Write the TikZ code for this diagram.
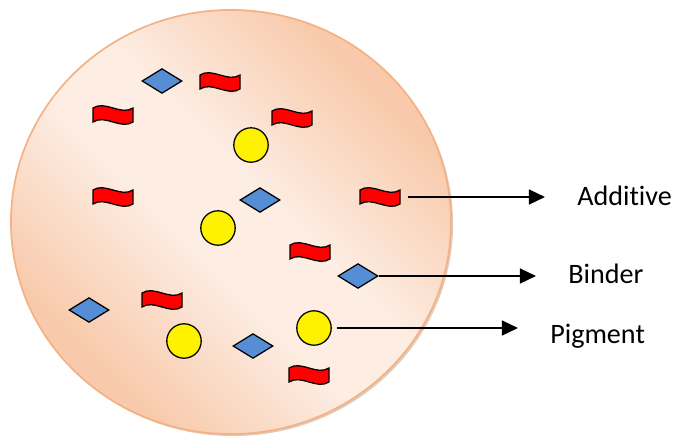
\documentclass[tikz,border=0pt]{standalone}
\usepackage{fontspec}
\setmainfont[Ligatures=NoCommon]{Carlito}
\usetikzlibrary{arrows.meta, positioning, shapes.geometric}

\definecolor{peachout}{RGB}{248,201,170}
\definecolor{peachin}{RGB}{253,237,227}
\definecolor{peachline}{RGB}{244,177,131}
\definecolor{peachshadow}{RGB}{196,150,118}
\definecolor{binderblue}{RGB}{85,142,213}

% diagonal band of light across the film
\pgfdeclareverticalshading{filmshade}{100bp}{color(0bp)=(peachout); color(27bp)=(peachout); color(45bp)=(peachin); color(55bp)=(peachin); color(73bp)=(peachout); color(100bp)=(peachout)}

\tikzset{
  pigment/.style={circle, draw=black, line width=0.9pt, fill=yellow, minimum size=0.86cm, inner sep=0pt},
  binder/.style={diamond, draw=black, line width=0.9pt, fill=binderblue, minimum width=1cm, minimum height=0.62cm, inner sep=0pt},
  additive/.pic={
    \draw[line width=0.9pt, fill=red] (-20,-7) .. controls (-8,-15) and (8,1) .. (20,-7) -- (20,7) .. controls (8,15) and (-8,-1) .. (-20,7) -- cycle;
    \coordinate (-e) at (20,0);
  },
  lbl/.style={anchor=base west, inner sep=0pt, font=\fontsize{20}{24}\selectfont},
  arr/.style={line width=1.4pt, -{Triangle[length=0.4cm, width=0.37cm]}, shorten >=0.8cm},
}

\begin{document}
\begin{tikzpicture}[x=0.025cm, y=-0.025cm]
    \useasboundingbox (0,0) rectangle (676,435);
    % paint film with its shadow
    \fill[peachshadow, opacity=0.5] (233,224) ellipse [x radius=5.5cm, y radius=5.3cm];
    \shadedraw[shading=filmshade, shading angle=-45, draw=peachline, line width=1.2pt] (231,222) ellipse [x radius=5.5cm, y radius=5.3cm];

    % binder particles
    \node[binder] (b1) at (162,81) {};
    \node[binder] (b2) at (260,200) {};
    \node[binder] (b3) at (358,276) {};
    \node[binder] (b4) at (89,310) {};
    \node[binder] (b5) at (253,346) {};

    % additive particles
    \pic (a1) at (220,82) {additive};
    \pic (a2) at (113,115) {additive};
    \pic (a3) at (292,118) {additive};
    \pic (a4) at (113,197) {additive};
    \pic (a5) at (380,197) {additive};
    \pic (a6) at (310,252) {additive};
    \pic (a7) at (162,300) {additive};
    \pic (a8) at (309,375) {additive};

    % pigment particles
    \node[pigment] (p1) at (251,145) {};
    \node[pigment] (p2) at (218,228) {};
    \node[pigment] (p3) at (184,341) {};
    \node[pigment] (p4) at (314,328) {};

    % labels
    \node[lbl] (additivetxt) at (577,205) {Additive};
    \node[lbl] (bindertxt) at (568,283) {Binder};
    \node[lbl] (pigmenttxt) at (550,343) {Pigment};

    % arrows
    \draw[arr, shorten <=0.2cm] (a5-e) -- (a5-e -| additivetxt.west);
    \draw[arr] (b3.east) -- (b3.east -| bindertxt.west);
    \draw[arr, shorten <=0.12cm] (p4.east) -- (p4.east -| pigmenttxt.west);
\end{tikzpicture}
\end{document}
